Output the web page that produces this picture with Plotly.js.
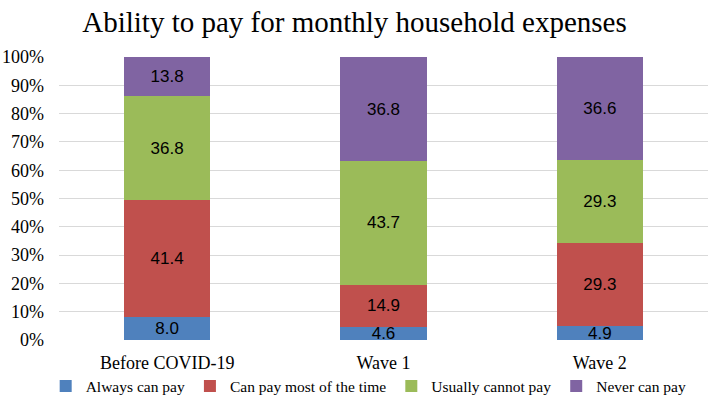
<!DOCTYPE html>
<html>
<head>
<meta charset="utf-8">
<script src="https://cdn.plot.ly/plotly-3.0.1.min.js"></script>
<style>
  body { margin: 0; background: #fff; }
  #chart { width: 709px; height: 412px; }
</style>
</head>
<body>
<div id="chart"></div>
<script>
var categories = ['Before COVID-19', 'Wave 1', 'Wave 2'];
var seriesNames = ['Always can pay', 'Can pay most of the time', 'Usually cannot pay', 'Never can pay'];
var alwaysPay = [8.0, 4.6, 4.9];
var mostTime = [41.4, 14.9, 29.3];
var usuallyNot = [36.8, 43.7, 29.3];
var neverPay = [13.8, 36.8, 36.6];
var colors = ['#4F81BD', '#C0504D', '#9BBB59', '#8064A2'];

var serif = '"Liberation Serif", "Times New Roman", serif';
var sans = '"Liberation Sans", Arial, sans-serif';

var allValues = [alwaysPay, mostTime, usuallyNot, neverPay];

var data = allValues.map(function (vals, i) {
  return {
    type: 'bar',
    name: seriesNames[i],
    x: categories,
    y: vals,
    text: vals.map(function (v) { return v.toFixed(1); }),
    textposition: 'inside',
    insidetextanchor: 'middle',
    textangle: 0,
    constraintext: 'none',
    textfont: { family: sans, size: 17, color: '#000000' },
    marker: { color: colors[i], line: { width: 0 } },
    hoverinfo: 'name+y'
  };
});

var layout = {
  width: 709,
  height: 412,
  barmode: 'stack',
  bargap: 0.6,
  paper_bgcolor: '#ffffff',
  plot_bgcolor: '#ffffff',
  margin: { l: 59, r: 1, t: 57, b: 72, pad: 0 },
  title: {
    text: 'Ability to pay for monthly household expenses',
    font: { family: serif, size: 29, color: '#000000' },
    x: 0.5,
    xanchor: 'center',
    y: 0.947,
    yanchor: 'middle'
  },
  xaxis: {
    showgrid: false,
    zeroline: false,
    showline: false,
    ticks: '',
    ticklabelstandoff: 10,
    tickfont: { family: serif, size: 18, color: '#000000' }
  },
  yaxis: {
    range: [0, 100],
    tickvals: [0, 10, 20, 30, 40, 50, 60, 70, 80, 90, 100],
    ticktext: ['0%', '10%', '20%', '30%', '40%', '50%', '60%', '70%', '80%', '90%', '100%'],
    showgrid: true,
    gridcolor: '#D9D9D9',
    gridwidth: 1,
    zeroline: false,
    showline: false,
    ticks: '',
    ticklabelstandoff: 14,
    tickfont: { family: serif, size: 18, color: '#000000' }
  },
  showlegend: true,
  legend: {
    orientation: 'h',
    xref: 'container',
    yref: 'container',
    x: 0.52,
    xanchor: 'center',
    y: 0.062,
    yanchor: 'middle',
    font: { family: serif, size: 15.5, color: '#000000' },
    itemwidth: 30,
    traceorder: 'normal'
  }
};

Plotly.newPlot('chart', data, layout, { displayModeBar: false, responsive: false });
</script>
</body>
</html>
